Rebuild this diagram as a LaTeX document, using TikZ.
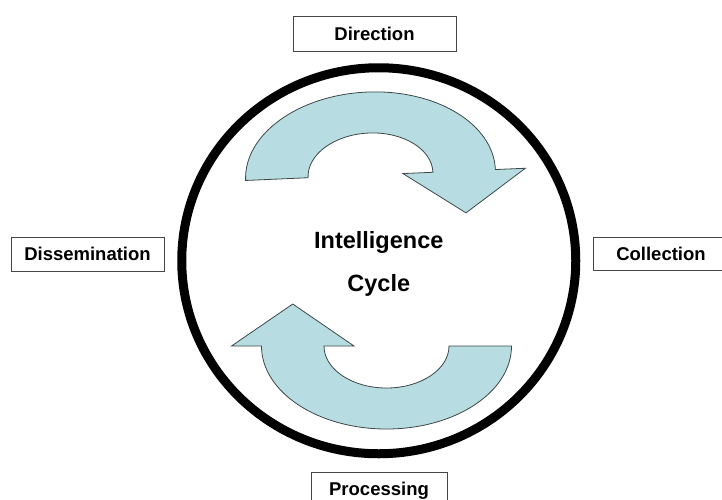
\documentclass[tikz,border=0pt]{standalone}
\usepackage{fontspec}
\setmainfont{Liberation Sans}
\definecolor{arrowfill}{RGB}{183,221,226}
\definecolor{arrowline}{RGB}{62,72,72}
\definecolor{boxline}{RGB}{70,70,70}
\begin{document}
\begin{tikzpicture}[x=1pt,y=1pt,
  stagebox/.style={draw=boxline,line width=0.9pt,fill=white,inner sep=0pt,
    font=\fontsize{18.5}{20}\selectfont\bfseries,text height=13.4pt,text depth=0pt},
  centertext/.style={anchor=base,inner sep=0pt,font=\fontsize{23.5}{26}\selectfont\bfseries},
  cyclearrow/.style={fill=arrowfill,draw=arrowline,line width=0.8pt,line join=miter}]
\useasboundingbox (0,0) rectangle (722,-499);
\fill[white] (0,0) rectangle (722,-499);

% outer ring
\draw[line width=9pt] (378.75,-260.75) ellipse [x radius=197, y radius=193];

% upper curved arrow, pointing down on the right
\begin{scope}[shift={(370.5,-175)},rotate=2.5]
\draw[cyclearrow] (-125,0) arc[start angle=180,end angle=0,x radius=125,y radius=83]
  -- (155,0) -- (93.75,-42) -- (32.5,0) -- (62.5,0)
  arc[start angle=0,end angle=180,x radius=62.5,y radius=42] -- cycle;
\end{scope}

% lower curved arrow, pointing up on the left
\begin{scope}[shift={(386.5,-346)}]
\draw[cyclearrow] (125,0) arc[start angle=0,end angle=-180,x radius=125,y radius=83]
  -- (-155,0) -- (-93.75,42) -- (-32.5,0) -- (-62.5,0)
  arc[start angle=180,end angle=360,x radius=62.5,y radius=42] -- cycle;
\end{scope}

% stage labels
\node[stagebox,minimum width=163pt,minimum height=35pt] (direction) at (374.5,-33.5) {Direction};
\node[stagebox,minimum width=153pt,minimum height=34pt] (dissemination) at (87.5,-254) {Dissemination};
\node[stagebox,minimum width=136pt,minimum height=33pt] (collection) at (661,-253.5) {Collection};
\node[stagebox,minimum width=136pt,minimum height=34pt] (processing) at (379,-489) {Processing};

% centre title
\node[centertext] (title1) at (378.75,-248) {Intelligence};
\node[centertext] (title2) at (378.75,-291) {Cycle};
\end{tikzpicture}
\end{document}
